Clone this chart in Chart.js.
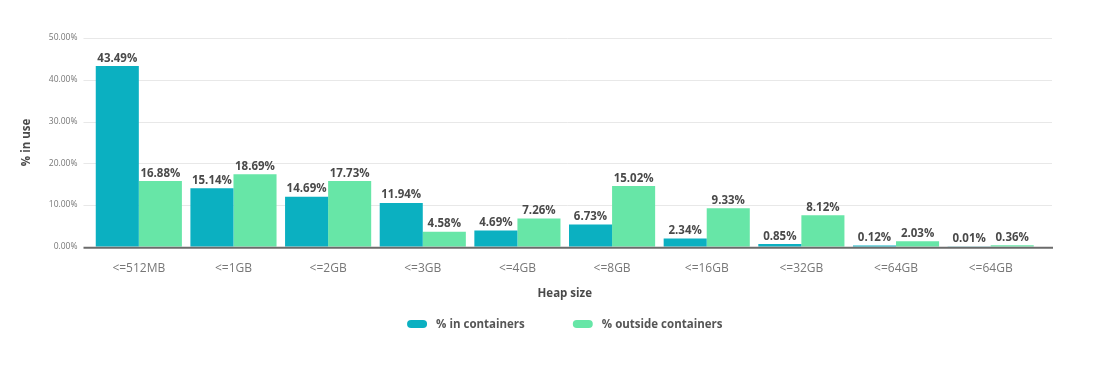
<!DOCTYPE html>
<html>
<head>
<meta charset="utf-8">
<script src="https://cdn.jsdelivr.net/npm/chart.js@4"></script>
<style>
  body { margin: 0; background: #fff; }
  #wrap { width: 1109px; height: 392px; }
</style>
</head>
<body>
<div id="wrap"><canvas id="heap-chart" width="1109" height="392"></canvas></div>
<script>
const categories = ['<=512MB', '<=1GB', '<=2GB', '<=3GB', '<=4GB', '<=8GB', '<=16GB', '<=32GB', '<=64GB', '<=64GB'];

// bar heights as drawn in the picture
const inContainers = [43.3, 14.0, 12.0, 10.5, 3.9, 5.35, 2.0, 0.65, 0.3, 0.05];
const outsideContainers = [15.75, 17.35, 15.75, 3.6, 6.8, 14.55, 9.25, 7.55, 1.35, 0.4];

// value labels printed above the bars
const inLabels = ['43.49%', '15.14%', '14.69%', '11.94%', '4.69%', '6.73%', '2.34%', '0.85%', '0.12%', '0.01%'];
const outsideLabels = ['16.88%', '18.69%', '17.73%', '4.58%', '7.26%', '15.02%', '9.33%', '8.12%', '2.03%', '0.36%'];

const yTicks = [0, 10, 20, 30, 40, 50];

const TEAL = '#0bb0c1';
const GREEN = '#67e6a7';
const FONT = '"Open Sans", "Noto Sans", sans-serif';

// grid + baseline run a bit past the category area, like the original
const frame = {
    id: 'frame',
    beforeDatasetsDraw(chart) {
        const { ctx, chartArea, scales } = chart;
        ctx.save();
        ctx.strokeStyle = '#e8e8e8';
        ctx.lineWidth = 1;
        yTicks.slice(1).forEach(function (t) {
            const y = Math.round(scales.y.getPixelForValue(t)) + 0.5;
            ctx.beginPath();
            ctx.moveTo(chartArea.left - 8, y);
            ctx.lineTo(chartArea.right + 14, y);
            ctx.stroke();
        });
        ctx.restore();
    },
    afterDatasetsDraw(chart) {
        const { ctx, chartArea, scales } = chart;
        const y = scales.y.getPixelForValue(0);
        ctx.save();
        ctx.strokeStyle = '#6b6b6b';
        ctx.lineWidth = 2;
        ctx.beginPath();
        ctx.moveTo(chartArea.left - 8, y + 1);
        ctx.lineTo(chartArea.right + 15, y + 1);
        ctx.stroke();
        ctx.restore();
    },
};

const barLabels = {
    id: 'barLabels',
    afterDatasetsDraw(chart) {
        const ctx = chart.ctx;
        ctx.save();
        ctx.font = 'bold 11.5px ' + FONT;
        ctx.fillStyle = '#4a4a4a';
        ctx.textAlign = 'center';
        ctx.textBaseline = 'bottom';
        chart.data.datasets.forEach(function (ds, i) {
            chart.getDatasetMeta(i).data.forEach(function (bar, j) {
                ctx.fillText(ds.valueLabels[j], bar.x, bar.y - 2);
            });
        });
        ctx.restore();
    },
};

// pill legend centred under the plot
const pillLegend = {
    id: 'pillLegend',
    afterDraw(chart) {
        const { ctx, chartArea } = chart;
        const ds = chart.data.datasets;
        const pillW = 20, pillH = 8, textGap = 9, itemGap = 48;
        ctx.save();
        ctx.font = 'bold 11.5px ' + FONT;
        const widths = ds.map(function (d) {
            return pillW + textGap + ctx.measureText(d.label).width;
        });
        const total = widths.reduce(function (a, b) { return a + b; }, 0) + itemGap * (ds.length - 1);
        let x = (chartArea.left + chartArea.right) / 2 - total / 2;
        const y = 324;
        ds.forEach(function (d, i) {
            ctx.fillStyle = d.backgroundColor;
            ctx.beginPath();
            ctx.roundRect(x, y - pillH / 2, pillW, pillH, pillH / 2);
            ctx.fill();
            ctx.fillStyle = '#555';
            ctx.textAlign = 'left';
            ctx.textBaseline = 'middle';
            ctx.fillText(d.label, x + pillW + textGap, y + 1);
            x += widths[i] + itemGap;
        });
        ctx.restore();
    },
};

new Chart(document.getElementById('heap-chart'), {
    type: 'bar',
    data: {
        labels: categories,
        datasets: [
            {
                label: '% in containers',
                data: inContainers,
                valueLabels: inLabels,
                backgroundColor: TEAL,
                borderWidth: 0,
                categoryPercentage: 0.91,
                barPercentage: 1.0,
            },
            {
                label: '% outside containers',
                data: outsideContainers,
                valueLabels: outsideLabels,
                backgroundColor: GREEN,
                borderWidth: 0,
                categoryPercentage: 0.91,
                barPercentage: 1.0,
            },
        ],
    },
    options: {
        responsive: false,
        animation: false,
        layout: { padding: { top: 38, right: 71, bottom: 91, left: 20 } },
        plugins: {
            tooltip: { enabled: false },
            legend: { display: false },
        },
        scales: {
            x: {
                grid: { display: false, drawTicks: false },
                border: { display: false },
                ticks: {
                    font: { family: FONT, size: 12 },
                    color: '#777',
                    padding: 15,
                    autoSkip: false,
                    maxRotation: 0,
                },
                title: {
                    display: true,
                    text: 'Heap size',
                    font: { family: FONT, size: 11.5, weight: 'bold' },
                    color: '#4a4a4a',
                    padding: { top: -4, bottom: 0 },
                },
            },
            y: {
                min: 0,
                max: 50,
                afterBuildTicks: function (scale) {
                    scale.ticks = yTicks.map(function (v) { return { value: v }; });
                },
                ticks: {
                    font: { family: FONT, size: 8.5 },
                    color: '#777',
                    padding: 14,
                    callback: function (v) {
                        return v.toFixed(2) + '%';
                    },
                },
                grid: { display: false, drawTicks: false },
                border: { display: false },
                title: {
                    display: true,
                    text: '% in use',
                    font: { family: FONT, size: 11.5, weight: 'bold' },
                    color: '#4a4a4a',
                    padding: { top: 0, bottom: 1 },
                },
            },
        },
    },
    plugins: [frame, barLabels, pillLegend],
});
</script>
</body>
</html>
